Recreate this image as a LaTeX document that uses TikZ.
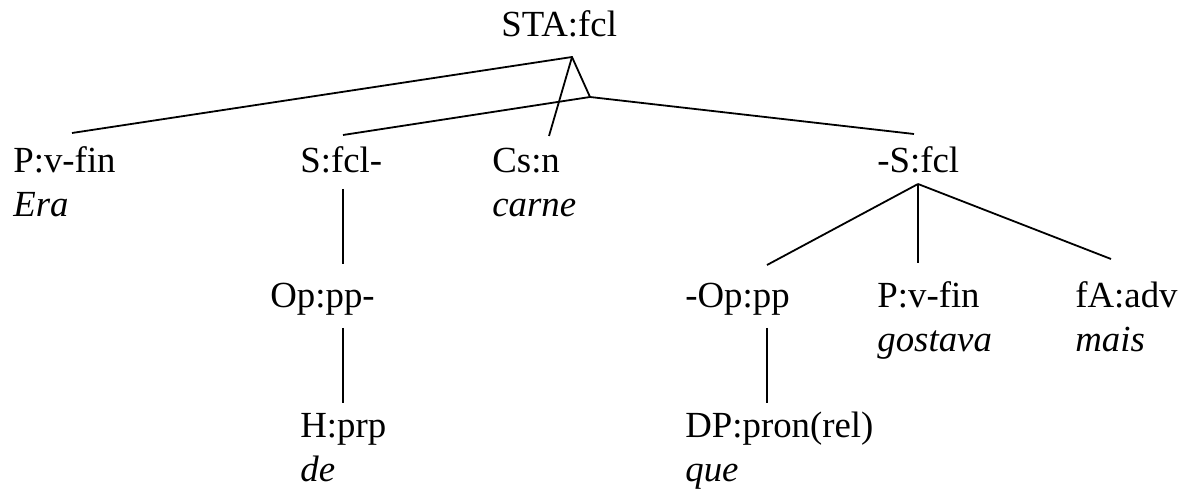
\documentclass[tikz,border=0pt]{standalone}
\usepackage{fontspec}
\setmainfont{Liberation Serif}
\usepackage{tikz}
\usetikzlibrary{positioning}

\begin{document}
\begin{tikzpicture}[
    x=0.5pt, y=-0.5pt,
    lbl/.style={anchor=base west, inner sep=0pt, align=left, font=\fontsize{18.4}{22}\selectfont},
    edge/.style={line width=0.9pt},
]
\useasboundingbox[fill=white] (0,0) rectangle (1182,491);

% root
\node[lbl] (sta) at (501,37) {STA:fcl};

% first level (two-line labels sit on the baseline of the word)
\node[lbl] (pvfin) at (13,217) {P:v-fin\\\textit{Era}};
\node[lbl] (sfcl) at (300,173) {S:fcl-};
\node[lbl] (csn) at (492,217) {Cs:n\\\textit{carne}};
\node[lbl] (sfclb) at (877,173) {-S:fcl};

% second level
\node[lbl] (oppa) at (270,307) {Op:pp-};
\node[lbl] (oppb) at (685,307) {-Op:pp};
\node[lbl] (pvfinb) at (877,351) {P:v-fin\\\textit{gostava}};
\node[lbl] (fadv) at (1075,351) {fA:adv\\\textit{mais}};

% third level
\node[lbl] (hprp) at (300,481) {H:prp\\\textit{de}};
\node[lbl] (dppron) at (685,481) {DP:pron(rel)\\\textit{que}};

% attachment points
\coordinate (sta-foot) at (572,57);
\coordinate (join) at (590,97);
\coordinate (pvfin-top) at (72,133);
\coordinate (sfcl-top) at (343,135);
\coordinate (csn-top) at (549,136);
\coordinate (sfclb-top) at (914,134);
\coordinate (sfcl-foot) at (343,189);
\coordinate (sfclb-foot) at (918,184);
\coordinate (oppa-top) at (343,264);
\coordinate (oppa-foot) at (343,328);
\coordinate (hprp-top) at (343,403);
\coordinate (oppb-top) at (767,265);
\coordinate (oppb-foot) at (767,328);
\coordinate (dppron-top) at (767,403);
\coordinate (pvfinb-top) at (918,263);
\coordinate (fadv-top) at (1111,259);

% branches
\draw[edge] (pvfin-top) -- (sta-foot) -- (join);
\draw[edge] (sta-foot) -- (csn-top);
\draw[edge] (sfcl-top) -- (join) -- (sfclb-top);
\draw[edge] (sfcl-foot) -- (oppa-top);
\draw[edge] (oppa-foot) -- (hprp-top);
\draw[edge] (sfclb-foot) -- (oppb-top);
\draw[edge] (sfclb-foot) -- (pvfinb-top);
\draw[edge] (sfclb-foot) -- (fadv-top);
\draw[edge] (oppb-foot) -- (dppron-top);
\end{tikzpicture}
\end{document}
